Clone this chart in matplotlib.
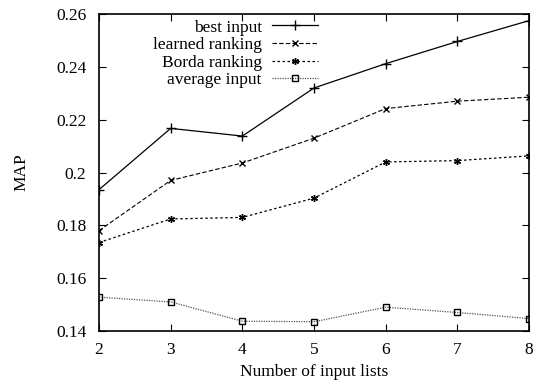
import numpy as np
import matplotlib.pyplot as plt

plt.rcParams['font.family'] = ['Liberation Serif', 'DejaVu Serif']

# number of input lists
n_lists = np.array([2, 3, 4, 5, 6, 7, 8])

best_input = np.array([0.1935, 0.2167, 0.2138, 0.2320, 0.2412, 0.2496, 0.2575])
learned_rank = np.array([0.1780, 0.1970, 0.2036, 0.2130, 0.2242, 0.2270, 0.2285])
borda_rank = np.array([0.1735, 0.1824, 0.1830, 0.1903, 0.2040, 0.2045, 0.2063])
avg_input = np.array([0.1528, 0.1510, 0.1437, 0.1435, 0.1490, 0.1470, 0.1447])

fig = plt.figure(figsize=(5.36, 3.83), dpi=100)
ax = fig.add_axes([0.1847, 0.1358, 0.8023, 0.8276])

ax.plot(n_lists, best_input, 'k-', marker='+', markersize=7, lw=0.9,
        label='best input')
ax.plot(n_lists, learned_rank, 'k--', marker='x', markersize=4.5, lw=0.8,
        dashes=(4, 2), label='learned ranking')
ax.plot(n_lists, borda_rank, 'k:', marker=(6, 2, 0), markersize=5, lw=0.9,
        dashes=(2, 2), label='Borda ranking')
ax.plot(n_lists, avg_input, ':', color='#555555', marker='s', markersize=4.5,
        mfc='none', mec='k', lw=0.9, dashes=(1, 1), label='average input')

ax.set_xlim(2, 8)
ax.set_ylim(0.14, 0.26)
ax.set_xticks(n_lists)
ax.set_yticks([0.14, 0.16, 0.18, 0.2, 0.22, 0.24, 0.26])
ax.set_yticklabels(['0.14', '0.16', '0.18', '0.2', '0.22', '0.24', '0.26'])
ax.tick_params(direction='in', top=True, right=True, labelsize=12.5, length=5,
               pad=8)
ax.tick_params(axis='y', pad=9)
for s in ax.spines.values():
    s.set_linewidth(1.2)

ax.set_xlabel('Number of input lists', fontsize=12.5, labelpad=4)
ax.set_ylabel('MAP', fontsize=12.5, labelpad=19)

ax.legend(loc='upper right', bbox_to_anchor=(0.61, 0.972),
          bbox_transform=fig.transFigure, frameon=False, markerfirst=False,
          fontsize=12.5, handlelength=2.65, labelspacing=0.08, borderpad=0,
          handletextpad=0.6)

plt.savefig('out.png', dpi=100)
